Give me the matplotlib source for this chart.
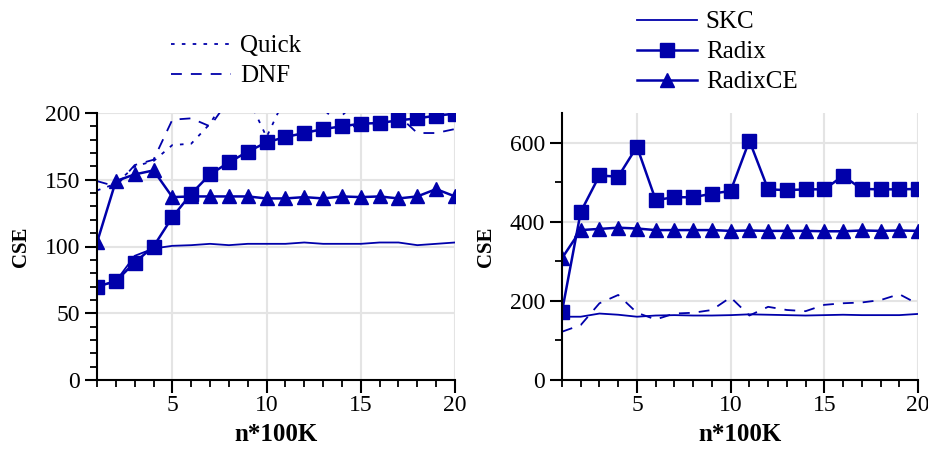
import numpy as np
import matplotlib.pyplot as plt
from matplotlib.ticker import MultipleLocator, FixedLocator

plt.rcParams['font.family'] = ['Liberation Serif', 'DejaVu Serif']

# x values: n*100K
n = np.arange(1, 21)

# left panel
skc_l = [70, 74, 93, 98.5, 100.5, 101, 102, 101, 102, 102,
         102, 103, 102, 102, 102, 103, 103, 101, 102, 103]
radix_l = [70, 74, 88, 100, 122, 139.5, 154, 163, 171, 178,
           182, 185, 188, 190, 192, 192.5, 194.5, 196, 198, 199.5]
radixce_l = [103, 149, 154, 157, 137, 137.5, 137.5, 137.5, 137.5, 136,
             136, 137, 136, 137.5, 137, 137.5, 136, 137.5, 143, 137.5]
quick_l = [142, 147, 160, 164, 176, 177, 192, 215, 212, 182,
           212, 215, 212, 198, 212, 215, 218, 220, 222, 225]
dnf_l = [149, 145, 161, 165, 195, 196, 190, 210, 215, 212,
         208, 205, 203, 190, 190, 191, 198, 185, 185, 188]

# right panel
skc_r = [160, 160, 168, 165, 160, 163, 164, 163, 163, 164,
         166, 165, 164, 163, 164, 165, 164, 164, 164, 167]
radix_r = [173, 425, 517, 514, 590, 455, 462, 462, 471, 478,
           605, 482, 480, 482, 482, 516, 483, 482, 482, 483]
radixce_r = [308, 379, 382, 385, 383, 379, 379, 379, 379, 377,
             378, 377, 377, 377, 376, 376, 378, 377, 378, 377]
dnf_r = [122, 139, 194, 215, 170, 153, 168, 170, 177, 209,
         163, 185, 177, 174, 190, 194, 196, 202, 217, 192]

blue = '#0000aa'

fig = plt.figure(figsize=(9.29, 4.49), dpi=100)
ax1 = fig.add_axes([97/929, 69/449, 358/929, 267/449])
ax2 = fig.add_axes([562/929, 69/449, 356/929, 267/449])


def style(ax, ymax, major, minor):
    ax.set_xlim(1, 20)
    ax.set_ylim(0, ymax)
    ax.xaxis.set_major_locator(FixedLocator([5, 10, 15, 20]))
    ax.xaxis.set_minor_locator(MultipleLocator(1))
    ax.yaxis.set_major_locator(MultipleLocator(major))
    ax.yaxis.set_minor_locator(MultipleLocator(minor))
    for s in ['top', 'right']:
        ax.spines[s].set_visible(False)
    for s in ['left', 'bottom']:
        ax.spines[s].set_linewidth(1.5)
    ax.tick_params(which='major', length=9, width=1.5, labelsize=17, direction='out')
    ax.tick_params(which='minor', length=5, width=1.3, direction='out')
    ax.tick_params(axis='x', which='major', pad=2)
    ax.tick_params(axis='y', which='major', pad=3)
    ax.grid(True, which='major', color='#e4e4e4', lw=1.5)
    ax.set_axisbelow(True)
    ax.set_xlabel('n*100K', fontsize=18, fontweight='bold', labelpad=5)
    ax.set_ylabel('CSE', fontsize=15, fontweight='bold', labelpad=10)


def draw(ax, skc, radix, radixce, dnf, quick=None):
    l_skc, = ax.plot(n, skc, color=blue, lw=1.3, label='SKC')
    l_rad, = ax.plot(n, radix, color=blue, lw=1.8, marker='s', ms=10, label='Radix')
    l_ce, = ax.plot(n, radixce, color=blue, lw=1.8, marker='^', ms=10, label='RadixCE')
    l_dnf, = ax.plot(n, dnf, color=blue, lw=1.3, ls=(0, (6, 5)), label='DNF')
    l_q = None
    if quick is not None:
        l_q, = ax.plot(n, quick, color=blue, lw=1.3, ls=(0, (2, 4)), label='Quick')
    return l_skc, l_rad, l_ce, l_dnf, l_q


style(ax1, 200, 50, 10)
style(ax2, 675, 200, 100)
h = draw(ax1, skc_l, radix_l, radixce_l, dnf_l, quick_l)
draw(ax2, skc_r, radix_r, radixce_r, dnf_r)

fig.legend([h[4], h[3]], ['Quick', 'DNF'], loc='upper left',
           bbox_to_anchor=(161/929, 1 - 25/449), frameon=False, fontsize=18,
           handlelength=2.4, labelspacing=0.3, handletextpad=0.35, borderaxespad=0)
fig.legend([h[0], h[1], h[2]], ['SKC', 'Radix', 'RadixCE'], loc='upper left',
           bbox_to_anchor=(627/929, 1 - 1/449), frameon=False, fontsize=18,
           handlelength=2.4, labelspacing=0.3, handletextpad=0.35, borderaxespad=0)

fig.savefig('out.png', dpi=100)
